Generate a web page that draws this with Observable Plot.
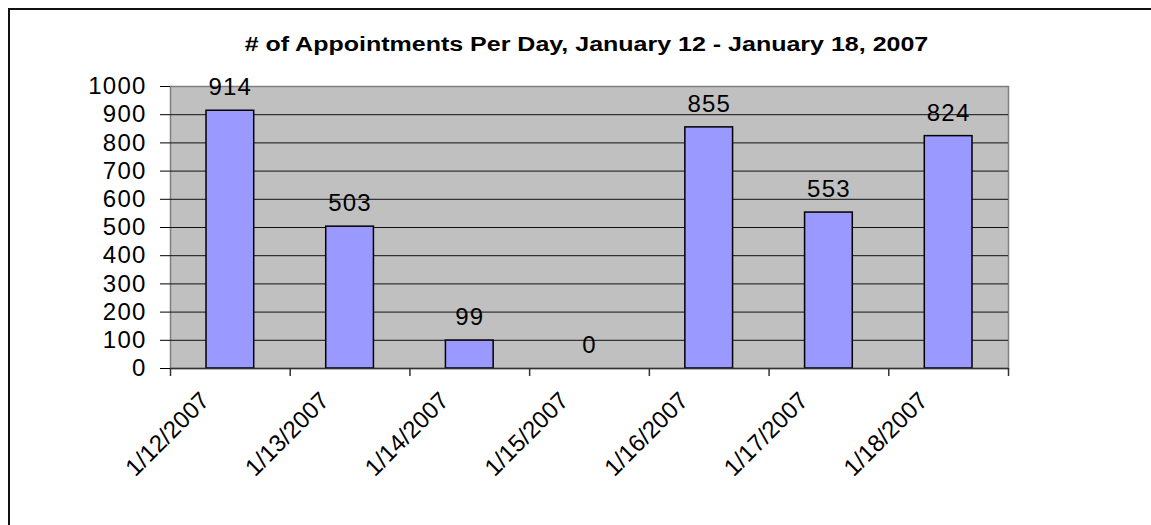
<!DOCTYPE html>
<html>
<head>
<meta charset="utf-8">
<script src="https://cdn.jsdelivr.net/npm/d3@7"></script>
<script src="https://cdn.jsdelivr.net/npm/@observablehq/plot@0.6"></script>
<style>
  html, body { margin: 0; padding: 0; background: #fff; }
  #wrap { position: relative; width: 1151px; height: 525px; overflow: hidden; font-family: "Liberation Sans", Arial, sans-serif; }
  #border { position: absolute; left: 8px; top: 8px; width: 1300px; height: 700px; border-top: 2px solid #111; border-left: 2px solid #111; }
  #title { position: relative; height: 60px; box-sizing: border-box; padding-top: 33px; line-height: 23px; text-align: center; font-weight: bold; font-size: 20px; color: #000; padding-left: 22px; }
  #title span { display: inline-block; transform: scaleX(1.25); transform-origin: center; white-space: nowrap; }
  #chart { position: relative; }
</style>
</head>
<body>
<div id="wrap">
  <div id="border"></div>
  <div id="title"><span># of Appointments Per Day, January 12 - January 18, 2007</span></div>
  <div id="chart"></div>
</div>
<script>
const dates = ["1/12/2007", "1/13/2007", "1/14/2007", "1/15/2007", "1/16/2007", "1/17/2007", "1/18/2007"];
const counts = [914, 503, 99, 0, 855, 553, 824];
const yTicks = [0, 100, 200, 300, 400, 500, 600, 700, 800, 900, 1000];
const gridTicks = [100, 200, 300, 400, 500, 600, 700, 800, 900];

const data = dates.map((d, i) => ({date: d, count: counts[i]}));

const W = 1151, H = 465;
const mL = 170, mR = 143, mT = 26, mB = 157;
const step = (W - mL - mR) / dates.length;

const chart = Plot.plot({
  width: W,
  height: H,
  marginLeft: mL,
  marginRight: mR,
  marginTop: mT,
  marginBottom: mB,
  style: {fontFamily: '"Liberation Sans", Arial, sans-serif', color: "#000", background: "transparent", overflow: "visible", letterSpacing: "1.2px"},
  x: {type: "band", domain: dates, padding: 0, round: false, axis: null},
  y: {domain: [0, 1000], axis: null},
  marks: [
    Plot.frame({fill: "#c0c0c0", stroke: "#808080", strokeWidth: 1.5}),
    Plot.ruleY(gridTicks, {stroke: "#111", strokeWidth: 1}),
    Plot.barY(data, {x: "date", y: "count", fill: "#9999ff", stroke: "#000", strokeWidth: 1.5, insetLeft: 36, insetRight: 36}),
    Plot.ruleY([0], {stroke: "#333", strokeWidth: 1.5}),
    Plot.ruleX(dates, {x: d => d, y1: 0, y2: 0, insetBottom: -8, dx: -step / 2, stroke: "#333", strokeWidth: 1.5}),
    Plot.ruleX([dates[dates.length - 1]], {x: d => d, y1: 0, y2: 0, insetBottom: -8, dx: step / 2, stroke: "#333", strokeWidth: 1.5}),
    Plot.axisY({ticks: yTicks, tickSize: 10, tickPadding: 14, fontSize: 24, tickFormat: d => String(d), stroke: "#000", label: null}),
    Plot.text(data, {x: "date", y: "count", text: d => String(d.count), lineAnchor: "bottom", dy: -15.5, fontSize: 24, fill: "#000"}),
    Plot.text(dates, {x: d => d, frameAnchor: "bottom", text: d => d, rotate: -45, textAnchor: "end", lineAnchor: "middle", dx: -25, dy: 28, fontSize: 24, fill: "#000"})
  ]
});
const textGroups = chart.querySelectorAll('g[aria-label="text"]');
if (textGroups.length > 1) textGroups[textGroups.length - 1].style.letterSpacing = "0px";
document.getElementById("chart").appendChild(chart);
</script>
</body>
</html>
